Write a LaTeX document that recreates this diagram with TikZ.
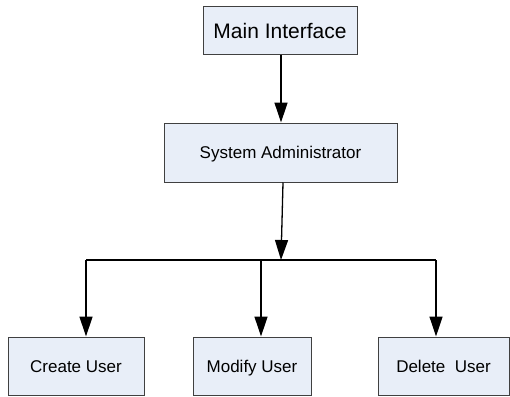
\documentclass[tikz,border=0pt]{standalone}
\usepackage{fontspec}
\setmainfont{Liberation Sans}
\usetikzlibrary{arrows.meta}
\definecolor{boxfill}{HTML}{E8EEF8}
\definecolor{boxline}{HTML}{404040}
\tikzset{
  x=1pt, y=-1pt,
  box/.style={draw=boxline, fill=boxfill, line width=1pt, inner sep=0pt,
    text height=12.2pt, text depth=0pt,
    font=\fontsize{17}{20}\selectfont},
  link/.style={line width=1.3pt, -{Triangle[length=20pt,width=13pt]}},
  bar/.style={line width=1.3pt}
}
\begin{document}
\begin{tikzpicture}
\useasboundingbox (0,0) rectangle (510,396);
% boxes
\node[box, minimum width=154pt, minimum height=47pt, text height=15pt, text depth=0pt,
  font=\fontsize{21}{24}\selectfont] (main) at (280,30.5) {Main Interface};
\node[box, minimum width=233pt, minimum height=59pt] (admin) at (280.5,152.5) {System Administrator};
\node[box, minimum width=136pt, minimum height=58pt] (create) at (76,366) {Create User};
\node[box, minimum width=118pt, minimum height=58pt] (modify) at (252,366) {Modify User};
\node[box, minimum width=131pt, minimum height=58pt] (delete) at (443.5,366) {Delete\ \ User};
% junction bar
\coordinate (hub) at (281,260);
\coordinate (b1) at (86,260);
\coordinate (b2) at (261,260);
\coordinate (b3) at (436,260);
% connectors
\draw[link] (main.south -| hub) -- (admin.north -| hub);
\draw[link] ([xshift=2.5pt]admin.south) -- (hub);
\draw[bar] (b1) -- (b3);
\draw[link] (b1) -- (b1 |- create.north);
\draw[link] (b2) -- (b2 |- modify.north);
\draw[link] (b3) -- (b3 |- delete.north);
\end{tikzpicture}
\end{document}
